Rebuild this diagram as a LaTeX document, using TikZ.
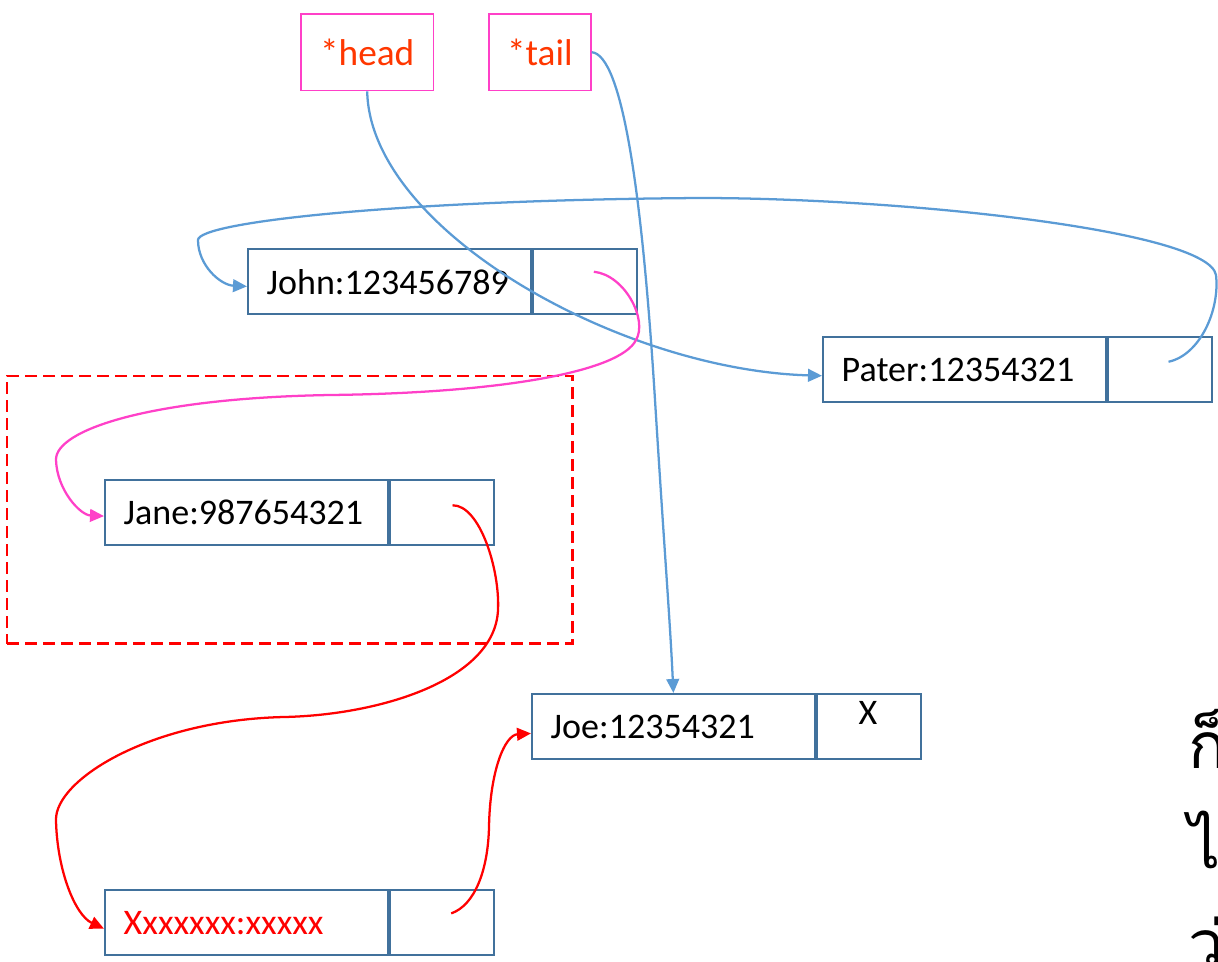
\documentclass[tikz,border=0pt]{standalone}
\usepackage{fontspec}
\setmainfont{Carlito}
\newfontfamily\thaifont[Script=Thai]{Loma}
\usetikzlibrary{arrows.meta}
\definecolor{boxblue}{RGB}{65,113,156}
\definecolor{linkblue}{RGB}{91,155,213}
\definecolor{ptrpink}{RGB}{255,64,200}
\definecolor{ptrred}{RGB}{255,55,0}
\definecolor{lred}{RGB}{255,0,0}
\begin{document}
\begin{tikzpicture}[x=0.75pt,y=-0.75pt,
  datacell/.style={draw=boxblue,line width=1.6pt,minimum height=49pt,inner xsep=14pt,inner ysep=0pt,text width=184pt,align=left,anchor=north west,font=\fontsize{27}{30}\selectfont},
  ptrcell/.style={draw=boxblue,line width=1.6pt,minimum width=78pt,minimum height=49pt,inner sep=0pt,anchor=west},
  ptrbox/.style={draw=ptrpink,line width=1.3pt,minimum height=57.5pt,inner sep=0pt,text=ptrred,anchor=north west,font=\fontsize{28}{30}\selectfont},
  link/.style={line width=1.7pt,-{Triangle[length=10.5pt,width=9.5pt]}},
  thai/.style={anchor=base west,font=\thaifont\fontsize{48}{50}\selectfont}
]
\useasboundingbox (0,0) rectangle (1218,961);
\clip (0,0) rectangle (1218,961);

% dashed group
\node[draw=lred,dash pattern=on 9pt off 4.5pt,line width=1.8pt,minimum width=424pt,minimum height=200.5pt,inner sep=0pt,anchor=north west] (grp) at (6,375) {};

% head / tail pointers
\node[ptrbox,minimum width=99.5pt] (head) at (300,13) {*head};
\node[ptrbox,minimum width=76.5pt] (tail) at (488,13) {*tail};

% list nodes
\node[datacell] (johnL) at (247,248) {John:123456789};
\node[ptrcell] (johnR) at (johnL.east) {};
\node[datacell] (paterL) at (822,336) {Pater:12354321};
\node[ptrcell] (paterR) at (paterL.east) {};
\node[datacell] (janeL) at (104,479) {Jane:987654321};
\node[ptrcell] (janeR) at (janeL.east) {};
\node[datacell] (joeL) at (531,693) {Joe:12354321};
\node[ptrcell] (joeR) at (joeL.east) {};
\node[font=\fontsize{27}{30}\selectfont] (joenull) at (868,713) {X};
\node[datacell,text=lred] (xxxL) at (104,889) {Xxxxxxx:xxxxx};
\node[ptrcell] (xxxR) at (xxxL.east) {};

% blue links
\draw[link,linkblue] (head.south) .. controls (370,230) and (620,370) .. ([yshift=-4.5pt]paterL.west);
\draw[link,linkblue] (tail.east) .. controls (622,55) and (642,190) .. (655,400) .. controls (665,560) and (670,620) .. (joeL.north);
\draw[link,linkblue] ([xshift=6.5pt,yshift=6pt]paterR.center) .. controls (1200,355) and (1220,310) .. (1216,275) .. controls (1208,230) and (900,198) .. (700,198) .. controls (400,200) and (198,222) .. (198,240) .. controls (198,265) and (220,285) .. ([yshift=-3.5pt]johnL.west);

% pink link
\draw[link,ptrpink] ([xshift=6.75pt,yshift=7.5pt]johnR.center) .. controls (625,275) and (648,320) .. (636,340) .. controls (620,372) and (500,393) .. (330,395) .. controls (150,398) and (55,430) .. (56,460) .. controls (57,490) and (80,515) .. ([yshift=-2.5pt]janeL.west);

% red links
\draw[link,lred] ([xshift=8pt,yshift=5.6pt]janeR.center) .. controls (480,505) and (500,570) .. (498,610) .. controls (495,680) and (380,715) .. (284,717) .. controls (150,720) and (55,780) .. (56,820) .. controls (57,870) and (75,915) .. ([yshift=-4.5pt]xxxL.west);
\draw[link,lred] ([xshift=7pt,yshift=7pt]xxxR.center) .. controls (475,905) and (488,870) .. (489,827) .. controls (490,770) and (505,735) .. ([yshift=-5pt]joeL.west);

% Thai text (cut by the right edge, as in the reference)
\node[thai] (th1) at (1184,768) {ก็};
\node[thai] (th2) at (1184,868) {ไ};
\node[thai] (th3) at (1184,966) {ว่};
\end{tikzpicture}
\end{document}
